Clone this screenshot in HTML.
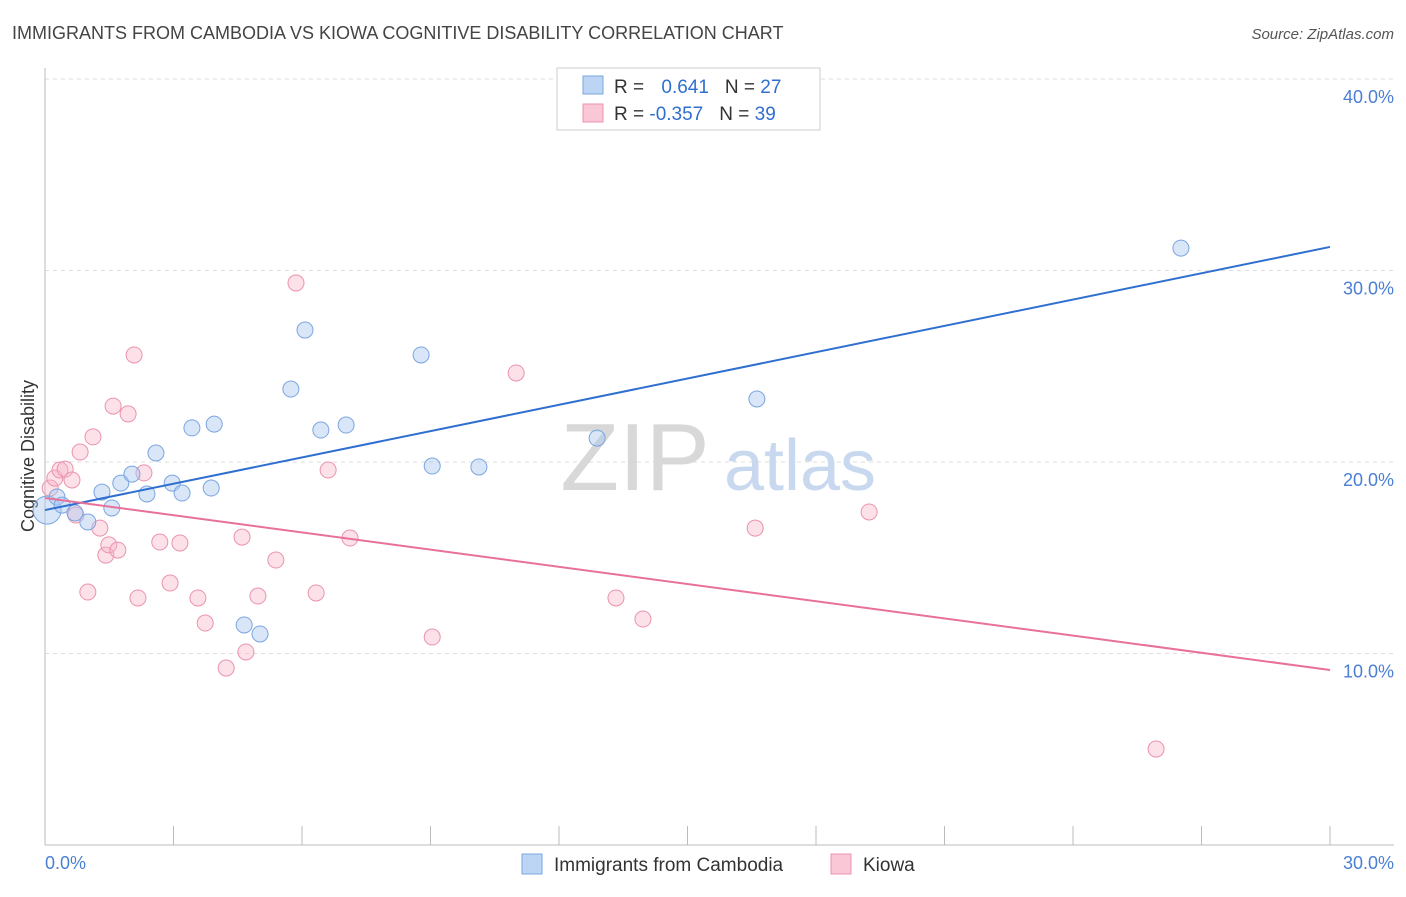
<!DOCTYPE html>
<html><head><meta charset="utf-8"><style>
body{margin:0;background:#fff;font-family:"Liberation Sans",sans-serif;}
svg text{font-family:"Liberation Sans",sans-serif;}
</style></head><body>
<svg id="chart" width="1406" height="892">
<text x="12" y="39" font-size="18" fill="#444">IMMIGRANTS FROM CAMBODIA VS KIOWA COGNITIVE DISABILITY CORRELATION CHART</text>
<text x="1394" y="39" font-size="15" fill="#555" font-style="italic" text-anchor="end">Source: ZipAtlas.com</text>
<g id="grid"></g>
<g>
<text x="635" y="490" font-size="96" fill="#d8d8d8" font-family="Liberation Serif" text-anchor="middle">ZIP</text>
<text x="800" y="490" font-size="72" fill="#c8d8ef" text-anchor="middle">atlas</text>
</g>
<line x1="45" y1="68" x2="45" y2="845" stroke="#bbb"/>
<line x1="45" y1="845" x2="1394" y2="845" stroke="#bbb"/>
<g id="xticks"></g>
<g id="ylabels"></g>
<text x="45" y="869" font-size="18" fill="#4a7fd4">0.0%</text>
<text x="1394" y="869" font-size="18" fill="#4a7fd4" text-anchor="end">30.0%</text>
<text transform="translate(34,456) rotate(-90)" font-size="18" fill="#333" text-anchor="middle">Cognitive Disability</text>
<g id="points"></g>
<g id="trends"></g>
<g>
<rect x="557" y="68" width="263" height="62" fill="#fff" stroke="#ccc"/>
<rect x="583" y="76" width="20" height="18" fill="#bcd5f5" stroke="#7aa6e0"/>
<rect x="583" y="104" width="20" height="18" fill="#f9c7d5" stroke="#eb93ae"/>
<text x="614" y="93" font-size="19" fill="#333">R = <tspan fill="#2f6fd0" dx="12">0.641</tspan><tspan fill="#333" dx="16">N = </tspan><tspan fill="#2f6fd0">27</tspan></text>
<text x="614" y="120" font-size="19" fill="#333">R = <tspan fill="#2f6fd0">-0.357</tspan><tspan fill="#333" dx="16">N = </tspan><tspan fill="#2f6fd0">39</tspan></text>
</g>
<g>
<rect x="522" y="854" width="20" height="20" fill="#bcd5f5" stroke="#7aa6e0"/>
<text x="554" y="871" font-size="19" fill="#333">Immigrants from Cambodia</text>
<rect x="831" y="854" width="20" height="20" fill="#f9c7d5" stroke="#eb93ae"/>
<text x="863" y="871" font-size="19" fill="#333">Kiowa</text>
</g>
</svg>
<script>
const yTicks=[10,20,30,40];
const yTickLabels=["10.0%","20.0%","30.0%","40.0%"];
const blueX=[0.05,0.28,0.40,0.70,1.00,1.33,1.56,1.77,2.03,2.38,2.59,2.97,3.20,3.43,3.88,3.95,4.65,5.02,5.74,6.07,6.44,7.03,8.78,9.04,10.13,12.89,16.62,26.52];
const blueY=[17.49,18.17,17.75,17.34,16.87,18.43,17.60,18.90,19.37,18.33,20.47,18.90,18.38,21.78,18.64,21.98,11.49,11.02,23.81,26.89,21.67,21.93,25.59,19.79,19.74,21.25,23.29,31.17];
const pinkX=[0.12,0.23,0.35,0.47,0.63,0.82,1.00,1.12,1.28,1.42,1.49,1.59,1.70,1.94,2.08,2.17,2.31,2.68,2.92,3.15,3.57,3.74,4.23,4.60,4.69,4.97,5.39,5.86,6.33,6.61,7.12,9.04,11.00,13.33,13.96,16.58,19.24,25.94,0.72];
const pinkY=[18.64,19.16,19.58,19.63,19.06,20.52,13.21,21.31,16.55,15.14,15.67,22.92,15.40,22.51,25.59,12.90,19.43,15.82,13.68,15.77,12.90,11.59,9.24,16.08,10.08,13.00,14.88,29.35,13.16,19.58,16.03,10.86,24.65,12.90,11.80,16.55,17.39,5.01,17.23];
const blueTrend=[17.49,31.23];
const pinkTrend=[18.12,9.14];
const NS="http://www.w3.org/2000/svg";
const sx=v=>45+v*42.833, sy=v=>845-v*19.15;
function mk(t,a,p){const e=document.createElementNS(NS,t);for(const k in a)e.setAttribute(k,a[k]);p.appendChild(e);return e;}
const grid=document.getElementById('grid'),yl=document.getElementById('ylabels'),xt=document.getElementById('xticks');
yTicks.forEach((t,i)=>{
 const l=mk('line',{x1:45,x2:1394,y1:sy(t),y2:sy(t),stroke:'#ddd','stroke-dasharray':'4,4'},grid);
 
 
 const tx=mk('text',{x:1394,y:sy(t)+24,'font-size':18,fill:'#4a7fd4','text-anchor':'end'},yl);
 tx.textContent=yTickLabels[i];
 
 
});
for(let i=1;i<=10;i++){
 const x=sx(i*3);
 const l=mk('line',{x1:x,x2:x,y1:826,y2:845,stroke:'#bbb'},xt);
 
 
}
const pts=document.getElementById('points');
pinkX.forEach((x,i)=>{
 const c=mk('circle',{cx:sx(x),cy:sy(pinkY[i]),r:8,fill:'rgba(247,180,200,0.4)',stroke:'#eb93ae','stroke-width':1},pts);
 
 
});
blueX.forEach((x,i)=>{
 const c=mk('circle',{cx:sx(x),cy:sy(blueY[i]),r:i==0?14:8,fill:'rgba(170,200,240,0.45)',stroke:'#7aa6e0','stroke-width':1},pts);
 
 
});
const tr=document.getElementById('trends');
const b=mk('line',{x1:sx(0),y1:sy(blueTrend[0]),x2:sx(30),y2:sy(blueTrend[1]),stroke:'#2f6fd0','stroke-width':2},tr);


const p=mk('line',{x1:sx(0),y1:sy(pinkTrend[0]),x2:sx(30),y2:sy(pinkTrend[1]),stroke:'#e8709a','stroke-width':2},tr);


</script>
</body></html>
